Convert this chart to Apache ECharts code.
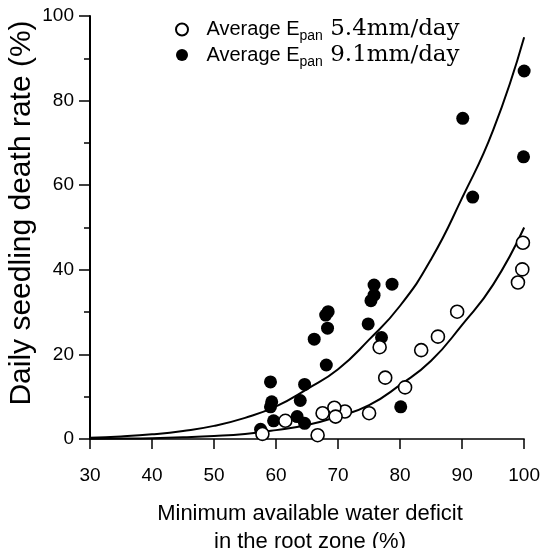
<!DOCTYPE html>
<html>
<head>
<meta charset="utf-8">
<script src="https://cdn.jsdelivr.net/npm/echarts@6/dist/echarts.min.js"></script>
<style>
html,body{margin:0;padding:0;background:#fff;}
#chart{width:543px;height:548px;}
</style>
</head>
<body>
<div id="chart"></div>
<script>
// Open circles: Average Epan 5.4 mm/day
var openX = [99.8, 99.7, 99.0, 89.2, 86.1, 83.4, 76.7, 77.6, 80.8, 75.0, 71.1, 69.4, 69.6, 67.5, 61.5, 66.7, 57.8];
var openY = [46.4, 40.1, 37.0, 30.1, 24.2, 21.0, 21.7, 14.5, 12.2, 6.1, 6.5, 7.4, 5.3, 6.1, 4.3, 0.9, 1.2];
// Filled circles: Average Epan 9.1 mm/day
var filledX = [100, 90.1, 99.9, 91.7, 78.7, 75.8, 75.8, 75.3, 68.4, 68.0, 68.3, 74.85, 66.15, 77.0, 68.1, 59.1, 64.6, 59.3, 59.1, 63.9, 59.6, 63.4, 64.6, 57.5, 80.1];
var filledY = [87.0, 75.8, 66.7, 57.2, 36.6, 36.4, 34.0, 32.7, 30.1, 29.3, 26.2, 27.2, 23.6, 24.0, 17.5, 13.5, 12.9, 8.8, 7.6, 9.1, 4.3, 5.3, 3.7, 2.3, 7.6];
// Fitted curves
var curveX = [30, 35, 40, 45, 50, 55, 60, 65, 70, 75, 80, 85, 90, 95, 100];
var curveFilledY = [0.3, 0.6, 1.1, 1.9, 3.1, 5.0, 7.7, 11.8, 16.5, 23.5, 31.5, 42.5, 57, 73, 95];
var curveOpenY = [0.05, 0.1, 0.2, 0.4, 0.7, 1.2, 2.1, 3.3, 5.3, 8.0, 12.8, 18.5, 27, 36.5, 50];
// Axes
var xTicks = {min: 30, max: 100, interval: 10};
var yTicks = {min: 0, max: 100, interval: 20};
var xTitle = ['Minimum available water deficit', 'in the root zone (%)'];
var yTitle = 'Daily seedling death rate (%)';
var seriesNames = ['open', 'filled'];
var rates = ['5.4mm/day', '9.1mm/day'];

function zip(a, b) { return a.map(function (v, i) { return [v, b[i]]; }); }

var sans = 'Liberation Sans, Arial, Helvetica, sans-serif';
var serif = 'DejaVu Serif, Liberation Serif, serif';

var chart = echarts.init(document.getElementById('chart'), null, {renderer: 'canvas'});
chart.setOption({
  backgroundColor: '#fff',
  animation: false,
  grid: {left: 90, right: 16, top: 16, bottom: 109},
  legend: {
    data: seriesNames,
    orient: 'vertical',
    left: 175,
    top: 18,
    padding: 0,
    itemWidth: 13,
    itemHeight: 12,
    itemGap: 0,
    formatter: function (name) {
      var r = name === 'open' ? rates[0] : rates[1];
      return '{a|Average E}{s|pan}{b| ' + r + '}';
    },
    textStyle: {
      rich: {
        a: {fontFamily: sans, fontSize: 20, color: '#000', lineHeight: 28, padding: [0, 0, 0, 13]},
        s: {fontFamily: sans, fontSize: 14, color: '#000', lineHeight: 14, verticalAlign: 'bottom'},
        b: {fontFamily: serif, fontSize: 23, color: '#000', lineHeight: 28}
      }
    }
  },
  xAxis: {
    type: 'value',
    min: xTicks.min, max: xTicks.max, interval: xTicks.interval,
    axisLine: {show: true, onZero: false, lineStyle: {color: '#000', width: 1.5}},
    axisTick: {show: true, inside: false, length: 10, lineStyle: {color: '#000', width: 1.5}},
    axisLabel: {color: '#000', fontFamily: sans, fontSize: 19, margin: 27},
    splitLine: {show: false}
  },
  yAxis: {
    type: 'value',
    min: yTicks.min, max: yTicks.max, interval: yTicks.interval,
    axisLine: {show: true, lineStyle: {color: '#000', width: 2}},
    axisTick: {show: true, inside: false, length: 11, lineStyle: {color: '#000', width: 1.5}},
    minorTick: {show: true, splitNumber: 2, length: 6, lineStyle: {color: '#000', width: 1.5}},
    axisLabel: {color: '#000', fontFamily: sans, fontSize: 19, margin: 16},
    splitLine: {show: false}
  },
  graphic: [
    {type: 'text', style: {text: xTitle[0], x: 310, y: 514, align: 'center', verticalAlign: 'middle', font: '22px ' + sans, fill: '#000'}},
    {type: 'text', style: {text: xTitle[1], x: 310, y: 542, align: 'center', verticalAlign: 'middle', font: '22px ' + sans, fill: '#000'}},
    {type: 'text', x: 22, y: 213, rotation: Math.PI / 2, style: {text: yTitle, x: 0, y: 0, align: 'center', verticalAlign: 'middle', font: '30px ' + sans, fill: '#000'}}
  ],
  series: [
    {
      name: 'filled-curve', type: 'line', data: zip(curveX, curveFilledY), smooth: true,
      symbol: 'none', lineStyle: {color: '#000', width: 2}, z: 2
    },
    {
      name: 'open-curve', type: 'line', data: zip(curveX, curveOpenY), smooth: true,
      symbol: 'none', lineStyle: {color: '#000', width: 2}, z: 2
    },
    {
      name: 'filled', type: 'scatter', data: zip(filledX, filledY), symbol: 'circle', symbolSize: 13,
      itemStyle: {color: '#000', borderColor: '#000', borderWidth: 0, opacity: 1}, z: 3
    },
    {
      name: 'open', type: 'scatter', data: zip(openX, openY), symbol: 'circle', symbolSize: 13,
      itemStyle: {color: '#fff', borderColor: '#000', borderWidth: 1.6, opacity: 1}, z: 4
    }
  ]
});
</script>
</body>
</html>
